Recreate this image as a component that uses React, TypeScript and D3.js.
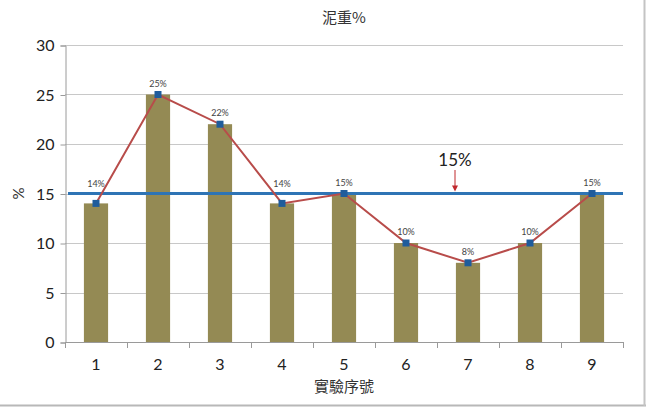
import { useEffect, useRef } from "react";
import * as d3 from "d3";

const categories = ["1", "2", "3", "4", "5", "6", "7", "8", "9"];
const values = [14, 25, 22, 14, 15, 10, 8, 10, 15];
const pointLabels = ["14%", "25%", "22%", "14%", "15%", "10%", "8%", "10%", "15%"];
const yTicks = [0, 5, 10, 15, 20, 25, 30];
const threshold = 15;
const thresholdLabel = "15%";

const width = 646;
const height = 410;

const App = () => {
  const chartRef = useRef<SVGSVGElement>(null);

  useEffect(() => {
    const svg = d3.select(chartRef.current);
    svg.selectAll("*").remove();

    const left = 65;
    const right = 623;
    const top = 45;
    const bottom = 342;
    const numFont = "Lato, 'Open Sans', sans-serif";
    const cjkFont = "'Noto Sans CJK TC', 'Noto Sans', sans-serif";

    // frame
    svg.append("rect").attr("width", width).attr("height", height).attr("fill", "#fff");
    svg.append("line").attr("x1", 0).attr("x2", width).attr("y1", 405.5).attr("y2", 405.5)
      .attr("stroke", "#b8b8b8").attr("stroke-width", 2);
    svg.append("line").attr("x1", 644.5).attr("x2", 644.5).attr("y1", 0).attr("y2", 406)
      .attr("stroke", "#c4c4c4").attr("stroke-width", 2);

    const x = d3.scaleBand<string>().domain(categories).range([left, right]).padding(0);
    const y = d3.scaleLinear().domain([0, 30]).range([bottom, top]);
    const cx = (c: string) => x(c)! + x.bandwidth() / 2;

    // horizontal grid
    svg.append("g")
      .selectAll("line")
      .data(yTicks.slice(1))
      .enter()
      .append("line")
      .attr("x1", left)
      .attr("x2", right)
      .attr("y1", (d) => Math.round(y(d)) + 0.5)
      .attr("y2", (d) => Math.round(y(d)) + 0.5)
      .attr("stroke", "#c8c8c8");

    // y axis
    const yAxis = d3.axisLeft(y).tickValues(yTicks).tickSize(5).tickPadding(6);
    svg.append("g")
      .attr("transform", `translate(${left + 0.5},0.5)`)
      .call(yAxis)
      .call((g) => g.select(".domain").attr("stroke", "#9a9a9a"))
      .call((g) => g.selectAll(".tick line").attr("stroke", "#9a9a9a"))
      .call((g) =>
        g.selectAll(".tick text")
          .attr("fill", "#222")
          .attr("font-family", numFont)
          .attr("font-size", 16)
      );

    // bars
    const barW = x.bandwidth() * 0.39;
    svg.append("g")
      .selectAll("rect")
      .data(values)
      .enter()
      .append("rect")
      .attr("x", (_, i) => cx(categories[i]) - barW / 2)
      .attr("y", (d) => y(d))
      .attr("width", barW)
      .attr("height", (d) => bottom - y(d))
      .attr("fill", "#948a54");

    // x axis
    svg.append("line")
      .attr("x1", left).attr("x2", right)
      .attr("y1", bottom + 0.5).attr("y2", bottom + 0.5)
      .attr("stroke", "#9a9a9a");
    const bounds = categories.map((c) => x(c)!).concat([right]);
    svg.append("g")
      .selectAll("line")
      .data(bounds)
      .enter()
      .append("line")
      .attr("x1", (d) => Math.round(d) + 0.5)
      .attr("x2", (d) => Math.round(d) + 0.5)
      .attr("y1", bottom)
      .attr("y2", bottom + 6)
      .attr("stroke", "#9a9a9a");
    svg.append("g")
      .selectAll("text")
      .data(categories)
      .enter()
      .append("text")
      .attr("x", (d) => cx(d))
      .attr("y", bottom + 28)
      .attr("text-anchor", "middle")
      .attr("font-family", numFont)
      .attr("font-size", 16)
      .attr("fill", "#222")
      .text((d) => d);

    // threshold line
    svg.append("line")
      .attr("x1", left + 3)
      .attr("x2", right)
      .attr("y1", y(threshold))
      .attr("y2", y(threshold))
      .attr("stroke", "#2e74b5")
      .attr("stroke-width", 3);

    // series line
    const line = d3
      .line<number>()
      .x((_, i) => cx(categories[i]))
      .y((d) => y(d));
    svg.append("path")
      .datum(values)
      .attr("fill", "none")
      .attr("stroke", "#b84c4a")
      .attr("stroke-width", 2)
      .attr("d", line);

    // markers
    svg.append("g")
      .selectAll("rect")
      .data(values)
      .enter()
      .append("rect")
      .attr("x", (_, i) => cx(categories[i]) - 3.5)
      .attr("y", (d) => y(d) - 3.5)
      .attr("width", 7)
      .attr("height", 7)
      .attr("fill", "#1f5c9c");

    // point labels (lifted above the threshold line when they would cross it)
    const labelY = (d: number) => {
      const py = y(d) - 8;
      const ly = y(threshold);
      return py > ly - 6 && py < ly + 10 ? ly - 7 : py;
    };
    svg.append("g")
      .selectAll("text")
      .data(values)
      .enter()
      .append("text")
      .attr("x", (_, i) => cx(categories[i]))
      .attr("y", (d) => labelY(d))
      .attr("text-anchor", "middle")
      .attr("font-family", numFont)
      .attr("font-size", 9)
      .attr("fill", "#444")
      .text((_, i) => pointLabels[i]);

    // annotation
    const ax = 455;
    svg.append("text")
      .attr("x", ax)
      .attr("y", 166)
      .attr("text-anchor", "middle")
      .attr("font-family", numFont)
      .attr("font-size", 17)
      .attr("fill", "#222")
      .text(thresholdLabel);
    svg.append("line")
      .attr("x1", ax).attr("x2", ax)
      .attr("y1", 170).attr("y2", y(threshold) - 6)
      .attr("stroke", "#c0282d").attr("stroke-width", 1);
    svg.append("path")
      .attr("d", `M${ax - 3},${y(threshold) - 8}L${ax + 3},${y(threshold) - 8}L${ax},${y(threshold) - 2}Z`)
      .attr("fill", "#c0282d");

    // titles
    svg.append("text")
      .attr("x", (left + right) / 2)
      .attr("y", 23)
      .attr("text-anchor", "middle")
      .attr("font-family", cjkFont)
      .attr("font-size", 15)
      .attr("fill", "#333")
      .text("泥重%");
    svg.append("text")
      .attr("x", (left + right) / 2)
      .attr("y", 392)
      .attr("text-anchor", "middle")
      .attr("font-family", cjkFont)
      .attr("font-size", 15)
      .attr("fill", "#333")
      .text("實驗序號");
    svg.append("text")
      .attr("transform", `translate(24,${y(15)}) rotate(-90)`)
      .attr("text-anchor", "middle")
      .attr("font-family", numFont)
      .attr("font-size", 15)
      .attr("fill", "#333")
      .text("%");
  }, []);

  return (
    <svg
      ref={chartRef}
      width={width}
      height={height}
      style={{ position: "absolute", left: 0, top: 0 }}
    />
  );
};

export default App;
